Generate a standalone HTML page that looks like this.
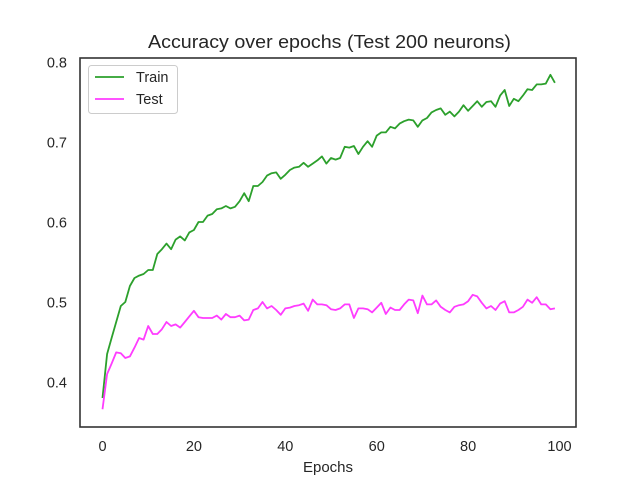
<!DOCTYPE html>
<html><head><meta charset="utf-8"><style>
body{margin:0;background:#fff}
svg text{font-family:"Liberation Sans","DejaVu Sans",sans-serif;fill:#262626}
</style></head><body>
<svg id="chart" width="640" height="480" viewBox="0 0 640 480">
<rect width="640" height="480" fill="#fff"/>
<text x="329.5" y="48" font-size="18.5" text-anchor="middle" textLength="363" lengthAdjust="spacingAndGlyphs">Accuracy over epochs (Test 200 neurons)</text>
<g id="ticks"></g>
<g id="series"></g>
<rect x="80" y="58" width="496" height="369" fill="none" stroke="#333" stroke-width="1.6"/>
<text x="328" y="472" font-size="15" text-anchor="middle">Epochs</text>
<g>
<rect x="88.5" y="65.5" width="89" height="48" rx="3" fill="#fff" stroke="#ccc"/>
<line x1="95" y1="77" x2="124" y2="77" stroke="#2ca02c" stroke-width="1.8"/>
<text x="136" y="82" font-size="14.5">Train</text>
<line x1="95" y1="99" x2="124" y2="99" stroke="#ff3cff" stroke-width="1.8"/>
<text x="136" y="104" font-size="14.5">Test</text>
</g>
</svg>
<script>
const xTicks=[0,20,40,60,80,100];
const yTicks=[0.4,0.5,0.6,0.7,0.8];
const yTickLabels=["0.4","0.5","0.6","0.7","0.8"];
const trainAcc=[0.38,0.435,0.455,0.475,0.495,0.5,0.52,0.53,0.533,0.535,0.54,0.54,0.56,0.566,0.573,0.566,0.578,0.582,0.577,0.587,0.59,0.6,0.6,0.608,0.61,0.616,0.617,0.62,0.617,0.619,0.626,0.636,0.626,0.645,0.645,0.65,0.658,0.661,0.662,0.654,0.659,0.665,0.668,0.669,0.674,0.669,0.673,0.677,0.682,0.673,0.68,0.678,0.68,0.694,0.693,0.695,0.685,0.694,0.701,0.694,0.708,0.712,0.712,0.719,0.717,0.723,0.726,0.728,0.727,0.719,0.727,0.73,0.737,0.74,0.742,0.734,0.738,0.732,0.738,0.746,0.739,0.745,0.751,0.744,0.75,0.751,0.744,0.758,0.765,0.745,0.754,0.751,0.758,0.766,0.765,0.772,0.772,0.773,0.784,0.774];
const testAcc=[0.366,0.41,0.423,0.437,0.436,0.43,0.432,0.443,0.455,0.453,0.47,0.46,0.46,0.466,0.475,0.47,0.472,0.468,0.475,0.482,0.489,0.481,0.48,0.48,0.48,0.483,0.478,0.485,0.481,0.481,0.483,0.477,0.478,0.49,0.492,0.5,0.492,0.495,0.49,0.484,0.492,0.493,0.495,0.496,0.498,0.489,0.503,0.497,0.497,0.496,0.491,0.49,0.492,0.497,0.497,0.48,0.492,0.492,0.491,0.487,0.493,0.499,0.485,0.493,0.49,0.49,0.497,0.503,0.502,0.486,0.508,0.497,0.497,0.502,0.494,0.49,0.487,0.494,0.496,0.497,0.501,0.509,0.507,0.499,0.492,0.495,0.49,0.498,0.501,0.487,0.487,0.49,0.494,0.503,0.499,0.506,0.497,0.497,0.491,0.492];
const NS="http://www.w3.org/2000/svg";
function xs(e){return 102.5+e*4.57;}
function ys(v){return 382-(v-0.4)*800;}
const tg=document.getElementById('ticks');
xTicks.forEach(t=>{
  const tx=document.createElementNS(NS,'text');
  tx.setAttribute('x',xs(t));tx.setAttribute('y',451);tx.setAttribute('font-size','14.5');tx.setAttribute('text-anchor','middle');
  tx.textContent=t;
  
  
  tg.appendChild(tx);
});
yTicks.forEach((t,i)=>{
  const tx=document.createElementNS(NS,'text');
  tx.setAttribute('x',67);tx.setAttribute('y',ys(t)+5.5);tx.setAttribute('font-size','14.5');tx.setAttribute('text-anchor','end');
  tx.textContent=yTickLabels[i];
  
  
  tg.appendChild(tx);
});
const sg=document.getElementById('series');
function line(data,color,name){
  const p=document.createElementNS(NS,'polyline');
  p.setAttribute('points',data.map((v,i)=>xs(i).toFixed(1)+','+ys(v).toFixed(1)).join(' '));
  p.setAttribute('fill','none');p.setAttribute('stroke',color);p.setAttribute('stroke-width','1.8');p.setAttribute('stroke-linejoin','round');
  
  
  sg.appendChild(p);
}
line(trainAcc,'#2ca02c','train-line');
line(testAcc,'#ff3cff','test-line');
</script>
</body></html>
